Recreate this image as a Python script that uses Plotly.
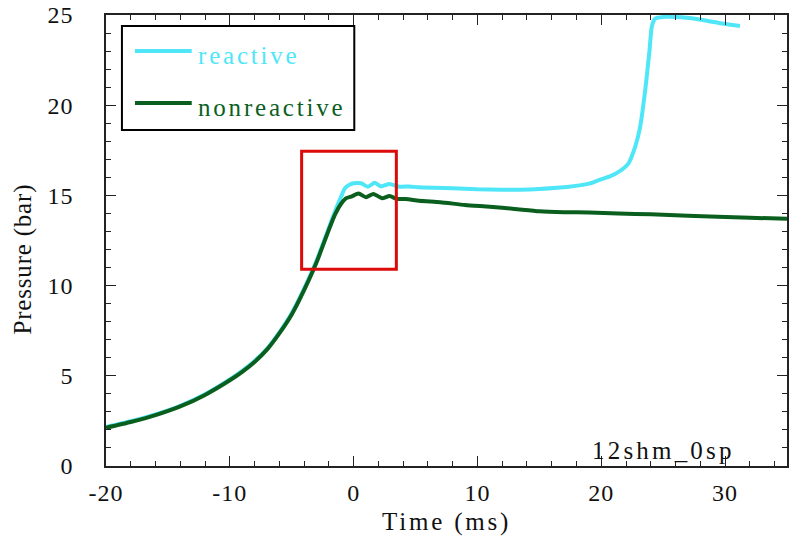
import plotly.graph_objects as go

# ---- data ----
time_nonreactive = [-20, -18, -16, -14, -12, -10, -9, -8, -7, -6, -5, -4, -3, -2, -1.5, -1.0, -0.6,
                    -0.2, 0.4, 1.0, 1.6, 2.3, 2.9, 3.5, 4.2, 5.3, 7, 9, 11, 13, 15, 17, 19, 21.4,
                    24, 27, 29.4, 32, 35]
p_nonreactive = [2.12, 2.44, 2.82, 3.3, 3.94, 4.75, 5.22, 5.77, 6.45, 7.35, 8.4, 9.75, 11.28, 13.1, 13.95,
                 14.55, 14.85, 14.93, 15.1, 14.9, 15.08, 14.84, 14.97, 14.8, 14.8, 14.7, 14.62, 14.47,
                 14.37, 14.25, 14.12, 14.07, 14.05, 14.0, 13.95, 13.87, 13.82, 13.76, 13.7]

time_reactive = [-20, -18, -16, -14, -12, -10, -9, -8, -7, -6, -5, -4, -3, -2, -1.4, -1.0, -0.7,
                 -0.3, 0.0, 0.6, 1.15, 1.7, 2.2, 2.9, 3.7, 4.5, 5.2, 6.5, 8, 10, 12, 13.4, 15, 17.4,
                 19, 19.8, 20.7, 21.4, 22.2, 22.74, 23.14, 23.55, 23.9, 24.08, 24.35, 25.2, 26.5,
                 28.4, 30, 31.2]
p_reactive = [2.16, 2.48, 2.86, 3.34, 3.98, 4.8, 5.27, 5.82, 6.5, 7.41, 8.47, 9.83, 11.38, 13.2, 14.3,
              14.95, 15.4, 15.6, 15.67, 15.67, 15.48, 15.7, 15.5, 15.63, 15.48, 15.5, 15.45, 15.42,
              15.4, 15.34, 15.32, 15.32, 15.36, 15.48, 15.65, 15.85, 16.05, 16.3, 16.78, 17.7, 18.8,
              20.84, 23.06, 24.35, 24.8, 24.9, 24.87, 24.7, 24.5, 24.39]

series_names = ["reactive", "nonreactive"]
x_tick_values = [-20, -10, 0, 10, 20, 30]
x_tick_labels = ["-20", "-10", "0", "10", "20", "30"]
y_tick_values = [0, 5, 10, 15, 20, 25]
y_tick_labels = ["0", "5", "10", "15", "20", "25"]
highlight_time = [-4.2, 3.45]
highlight_pressure = [10.9, 17.45]
run_label = "12shm_0sp"

CYAN = "#4FE6F8"
GREEN = "#0A5F1E"
RED = "#DD0A0A"
FONT = "Times New Roman, Liberation Serif, Tinos, serif"


def spaced(s, sp=1.0):
    return f"<span style='letter-spacing:{sp}px'>{s}</span>"


fig = go.Figure()
fig.add_trace(go.Scatter(x=time_reactive, y=p_reactive, mode="lines", name=series_names[0],
                         line=dict(color=CYAN, width=4, shape="spline", smoothing=0.6),
                         showlegend=False))
fig.add_trace(go.Scatter(x=time_nonreactive, y=p_nonreactive, mode="lines", name=series_names[1],
                         line=dict(color=GREEN, width=4, shape="spline", smoothing=0.6),
                         showlegend=False))

# highlight box
fig.add_shape(type="rect", xref="x", yref="y",
              x0=highlight_time[0], x1=highlight_time[1],
              y0=highlight_pressure[0], y1=highlight_pressure[1],
              line=dict(color=RED, width=3), fillcolor="rgba(0,0,0,0)")

# manual legend
fig.add_shape(type="rect", xref="paper", yref="paper", x0=0.0234, x1=0.3646, y0=0.745, y1=0.9756,
              line=dict(color="black", width=2), fillcolor="white")
fig.add_shape(type="line", xref="paper", yref="paper", x0=0.0425, x1=0.1259, y0=0.9202, y1=0.9202,
              line=dict(color=CYAN, width=4))
fig.add_shape(type="line", xref="paper", yref="paper", x0=0.0425, x1=0.1259, y0=0.8049, y1=0.8049,
              line=dict(color=GREEN, width=4))
fig.add_annotation(xref="paper", yref="paper", x=0.1320, y=0.910, xanchor="left", yanchor="middle",
                   text=spaced(series_names[0], 2.8), showarrow=False,
                   font=dict(family=FONT, size=25, color=CYAN))
fig.add_annotation(xref="paper", yref="paper", x=0.1320, y=0.795, xanchor="left", yanchor="middle",
                   text=spaced(series_names[1], 2.8), showarrow=False,
                   font=dict(family=FONT, size=25, color=GREEN))

# run label
fig.add_annotation(xref="paper", yref="paper", x=0.7100, y=0.034, xanchor="left", yanchor="middle",
                   text=spaced(run_label, 3.2), showarrow=False,
                   font=dict(family=FONT, size=25, color="#111"))

# axis titles
fig.add_annotation(xref="paper", yref="paper", x=0.5, y=-0.124, xanchor="center", yanchor="middle",
                   text=spaced("Time (ms)", 2.8), showarrow=False,
                   font=dict(family=FONT, size=25, color="#111"))
fig.add_annotation(xref="paper", yref="paper", x=-0.122, y=0.46, xanchor="center", yanchor="middle",
                   text=spaced("Pressure (bar)", 0.8), showarrow=False, textangle=-90,
                   font=dict(family=FONT, size=25, color="#111"))

axis_common = dict(showgrid=False, zeroline=False, showline=True, linecolor="#222", linewidth=1.5,
                   mirror="ticks", ticks="inside", ticklen=10, tickwidth=1.2, tickcolor="#222",
                   tickfont=dict(family=FONT, size=24, color="#111"))

fig.update_xaxes(range=[-20, 35], tickmode="array", tickvals=x_tick_values,
                 ticktext=[spaced(t) for t in x_tick_labels], ticklabelstandoff=4,
                 minor=dict(tickmode="linear", tick0=0, dtick=2, ticks="inside", ticklen=5,
                            tickwidth=1.2, tickcolor="#222"),
                 **axis_common)
fig.update_yaxes(range=[0, 25], tickmode="array", tickvals=y_tick_values,
                 ticktext=[spaced(t) for t in y_tick_labels], ticklabelstandoff=26,
                 minor=dict(tickmode="linear", tick0=0, dtick=1, ticks="inside", ticklen=5,
                            tickwidth=1.2, tickcolor="#222"),
                 **axis_common)

fig.update_layout(width=789, height=536, margin=dict(l=106, r=0, t=15, b=70),
                  paper_bgcolor="white", plot_bgcolor="white", showlegend=False)

fig.write_html("out.html")
